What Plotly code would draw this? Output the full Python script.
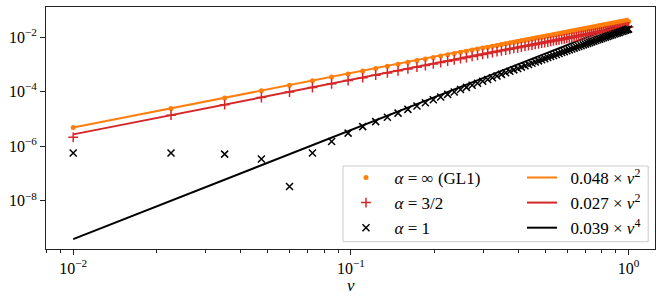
import plotly.graph_objects as go

nu = [0.0100, 0.0225, 0.0351, 0.0476, 0.0601, 0.0727, 0.0852, 0.0977, 0.1103, 0.1228,
      0.1353, 0.1478, 0.1604, 0.1729, 0.1854, 0.1980, 0.2105, 0.2230, 0.2356, 0.2481,
      0.2606, 0.2732, 0.2857, 0.2982, 0.3108, 0.3233, 0.3358, 0.3484, 0.3609, 0.3734,
      0.3859, 0.3985, 0.4110, 0.4235, 0.4361, 0.4486, 0.4611, 0.4737, 0.4862, 0.4987,
      0.5113, 0.5238, 0.5363, 0.5489, 0.5614, 0.5739, 0.5865, 0.5990, 0.6115, 0.6241,
      0.6366, 0.6491, 0.6616, 0.6742, 0.6867, 0.6992, 0.7118, 0.7243, 0.7368, 0.7494,
      0.7619, 0.7744, 0.7870, 0.7995, 0.8120, 0.8246, 0.8371, 0.8496, 0.8622, 0.8747,
      0.8872, 0.8997, 0.9123, 0.9248, 0.9373, 0.9499, 0.9624, 0.9749, 0.9875, 1.0000]

gl1 = [4.79e-6, 2.41e-5, 5.85e-5, 1.073e-4, 1.703e-4, 2.483e-4, 3.397e-4, 4.452e-4, 5.653e-4, 6.981e-4,
       8.444e-4, 1.0041e-3, 1.1782e-3, 1.3641e-3, 1.5630e-3, 1.7763e-3, 2.0006e-3, 2.2373e-3, 2.4884e-3, 2.7499e-3,
       3.0234e-3, 3.3112e-3, 3.6087e-3, 3.9178e-3, 4.2412e-3, 4.5735e-3, 4.9172e-3, 5.2751e-3, 5.6413e-3, 6.0183e-3,
       6.4065e-3, 6.8085e-3, 7.2182e-3, 7.6384e-3, 8.0727e-3, 8.5138e-3, 8.9653e-3, 9.4306e-3, 9.9023e-3, 1.0384e-2,
       1.0880e-2, 1.1381e-2, 1.1892e-2, 1.2417e-2, 1.2948e-2, 1.3487e-2, 1.4041e-2, 1.4599e-2, 1.5167e-2, 1.5748e-2,
       1.6333e-2, 1.6928e-2, 1.7531e-2, 1.8148e-2, 1.8768e-2, 1.9398e-2, 2.0040e-2, 2.0687e-2, 2.1341e-2, 2.2009e-2,
       2.2680e-2, 2.3359e-2, 2.4051e-2, 2.4746e-2, 2.5449e-2, 2.6166e-2, 2.6884e-2, 2.7610e-2, 2.8350e-2, 2.9091e-2,
       2.9840e-2, 3.0596e-2, 3.1366e-2, 3.2136e-2, 3.2914e-2, 3.3706e-2, 3.4498e-2, 3.5297e-2, 3.6110e-2, 3.6923e-2]

a32 = [2.10e-6, 1.362e-5, 3.309e-5, 6.075e-5, 9.665e-5, 1.4116e-4, 1.9352e-4, 2.5400e-4, 3.2313e-4, 3.9980e-4,
       4.8443e-4, 5.7702e-4, 6.7834e-4, 7.8675e-4, 9.0296e-4, 1.0280e-3, 1.1598e-3, 1.2992e-3, 1.4475e-3, 1.6023e-3,
       1.7646e-3, 1.9359e-3, 2.1133e-3, 2.2981e-3, 2.4919e-3, 2.6916e-3, 2.8986e-3, 3.1146e-3, 3.3361e-3, 3.5649e-3,
       3.8008e-3, 4.0458e-3, 4.2960e-3, 4.5533e-3, 4.8197e-3, 5.0910e-3, 5.3692e-3, 5.6566e-3, 5.9487e-3, 6.2476e-3,
       6.5558e-3, 6.8683e-3, 7.1875e-3, 7.5160e-3, 7.8487e-3, 8.1878e-3, 8.5365e-3, 8.8889e-3, 9.2479e-3, 9.6163e-3,
       9.9883e-3, 1.0367e-2, 1.0751e-2, 1.1146e-2, 1.1543e-2, 1.1947e-2, 1.2360e-2, 1.2776e-2, 1.3199e-2, 1.3631e-2,
       1.4066e-2, 1.4507e-2, 1.4957e-2, 1.5410e-2, 1.5869e-2, 1.6338e-2, 1.6809e-2, 1.7286e-2, 1.7773e-2, 1.8262e-2,
       1.8756e-2, 1.9257e-2, 1.9767e-2, 2.0279e-2, 2.0796e-2, 2.1324e-2, 2.1853e-2, 2.2388e-2, 2.2932e-2, 2.3478e-2]

a1 = [5.6e-7, 5.6e-7, 5.1e-7, 3.4e-7, 3.3e-8, 5.6e-7, 1.48e-6, 3.0e-6, 5.199e-6, 7.899e-6,
      1.1512e-5, 1.6214e-5, 2.2247e-5, 2.9714e-5, 3.8872e-5, 5.0034e-5, 6.3256e-5, 7.8860e-5, 9.7248e-5, 1.18394e-4,
      1.42686e-4, 1.70643e-4, 2.02098e-4, 2.37548e-4, 2.77623e-4, 3.21982e-4, 3.71236e-4, 4.26148e-4, 4.86169e-4, 5.52037e-4,
      6.24070e-4, 7.03258e-4, 7.88687e-4, 8.81290e-4, 9.82253e-4, 1.0903e-3, 1.2066e-3, 1.3325e-3, 1.4664e-3, 1.6096e-3,
      1.7637e-3, 1.9266e-3, 2.1000e-3, 2.2857e-3, 2.4811e-3, 2.6880e-3, 2.9087e-3, 3.1399e-3, 3.3839e-3, 3.6431e-3,
      3.9137e-3, 4.1982e-3, 4.4972e-3, 4.8130e-3, 5.1416e-3, 5.4856e-3, 5.8485e-3, 6.2248e-3, 6.6178e-3, 7.0312e-3,
      7.4589e-3, 7.9045e-3, 8.3722e-3, 8.8550e-3, 9.3569e-3, 9.8826e-3, 1.0424e-2, 1.0986e-2, 1.1574e-2, 1.2178e-2,
      1.2804e-2, 1.3451e-2, 1.4128e-2, 1.4821e-2, 1.5538e-2, 1.6284e-2, 1.7049e-2, 1.7839e-2, 1.8660e-2, 1.9500e-2]

fit_coefs = [0.048, 0.027, 0.039]
fit_powers = [2, 2, 4]
fit_names = ["0.048 × <i>ν</i><sup>2</sup>", "0.027 × <i>ν</i><sup>2</sup>", "0.039 × <i>ν</i><sup>4</sup>"]
data_names = ["<i>α</i> = ∞ (GL1)", "<i>α</i> = 3/2", "<i>α</i> = 1"]
x_title = "<i>ν</i>"

xtick_vals = [0.01, 0.1, 1]
xtick_text = ["10<sup>−2</sup>", "10<sup>−1</sup>", "10<sup>0</sup>"]
xminor_vals = [0.008, 0.009, 0.02, 0.03, 0.04, 0.05, 0.06, 0.07, 0.08, 0.09,
               0.2, 0.3, 0.4, 0.5, 0.6, 0.7, 0.8, 0.9]
ytick_vals = [1e-8, 1e-6, 1e-4, 1e-2]
ytick_text = ["10<sup>−8</sup>", "10<sup>−6</sup>", "10<sup>−4</sup>", "10<sup>−2</sup>"]

ORANGE = "#ff7f0e"
RED = "#d62728"
BLACK = "#000000"
colors = [ORANGE, RED, BLACK]

PAD = "\u2002"  # small leading gap in legend labels, as in the reference

fig = go.Figure()

# fit lines (right legend column)
for i in range(3):
    fig.add_trace(go.Scatter(
        x=nu, y=[fit_coefs[i] * v ** fit_powers[i] for v in nu],
        mode="lines", name=PAD + fit_names[i],
        line=dict(color=colors[i], width=2),
        legend="legend2",
    ))

# data (left legend column)
fig.add_trace(go.Scatter(
    x=nu, y=gl1, mode="markers", name=PAD + data_names[0],
    marker=dict(symbol="circle", size=5, color=ORANGE),
    legend="legend",
))
fig.add_trace(go.Scatter(
    x=nu, y=a32, mode="markers", name=PAD + data_names[1],
    marker=dict(symbol="cross-thin", size=7, color=RED, line=dict(width=1.5, color=RED)),
    legend="legend",
))
fig.add_trace(go.Scatter(
    x=nu, y=a1, mode="markers", name=PAD + data_names[2],
    marker=dict(symbol="x-thin", size=7, color=BLACK, line=dict(width=1.5, color=BLACK)),
    legend="legend",
))

font_family = "Liberation Serif, DejaVu Serif, serif"
leg_common = dict(
    orientation="v", yanchor="top", xanchor="left",
    bgcolor="rgba(0,0,0,0)", borderwidth=0,
    font=dict(family=font_family, size=17),
    traceorder="normal", itemsizing="trace",
)

fig.update_layout(
    width=665, height=300,
    margin=dict(l=46, r=10, t=7, b=51),
    paper_bgcolor="white", plot_bgcolor="white",
    font=dict(family=font_family, size=16, color="black"),
    showlegend=True,
    legend=dict(x=0.4926, y=0.368, **leg_common),
    legend2=dict(x=0.7816, y=0.368, **leg_common),
    shapes=[dict(
        type="rect", xref="paper", yref="paper",
        x0=0.4877, x1=0.9888, y0=0.030, y1=0.343,
        fillcolor="rgba(255,255,255,0.8)",
        line=dict(color="#cccccc", width=1),
        layer="above",
    )],
    annotations=[dict(
        text=x_title, xref="paper", yref="paper", x=0.5, y=-0.149,
        xanchor="center", yanchor="middle", showarrow=False,
        font=dict(size=17),
    )],
    xaxis=dict(
        type="log", range=[-2.098, 0.095], automargin=False,
        tickmode="array", tickvals=xtick_vals, ticktext=xtick_text,
        ticks="outside", ticklen=5, tickwidth=1, tickcolor="#222",
        tickfont=dict(size=16),
        showline=True, linecolor="#222", linewidth=1, mirror=True,
        showgrid=False, zeroline=False,
        minor=dict(tickmode="array", tickvals=xminor_vals, ticks="outside",
                   ticklen=3, tickwidth=0.8, tickcolor="#222", showgrid=False),
    ),
    yaxis=dict(
        type="log", range=[-9.77, -0.90], automargin=False,
        tickmode="array", tickvals=ytick_vals, ticktext=ytick_text,
        ticks="outside", ticklen=5, tickwidth=1, tickcolor="#222",
        tickfont=dict(size=16),
        showline=True, linecolor="#222", linewidth=1, mirror=True,
        showgrid=False, zeroline=False,
    ),
)

fig.write_html(
    "out.html",
    config={"displayModeBar": False},
    post_script="document.body.style.margin='0';document.body.style.overflow='hidden';",
)
